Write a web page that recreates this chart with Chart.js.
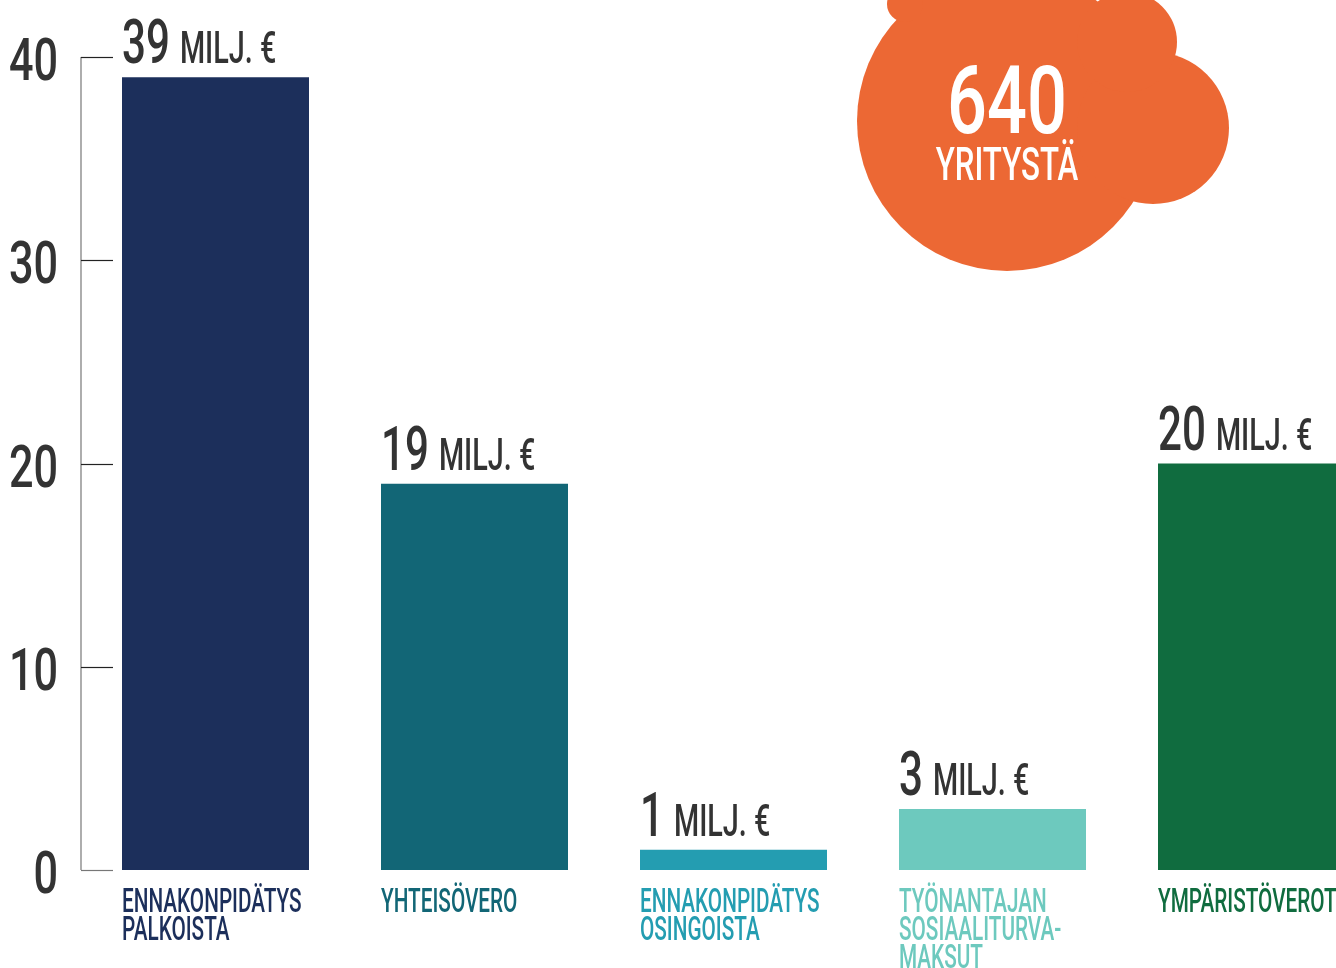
<!DOCTYPE html>
<html>
<head>
<meta charset="utf-8">
<script src="https://cdn.jsdelivr.net/npm/chart.js@4/dist/chart.umd.min.js"></script>
<style>
html,body{margin:0;padding:0;background:#fff;overflow:hidden;width:1336px;height:968px;}
#wrap{position:relative;width:1336px;height:968px;overflow:hidden;}
canvas{position:absolute;left:0;top:0;}
</style>
</head>
<body>
<div id="wrap"><canvas id="c" width="1400" height="968"></canvas></div>
<script>
const categories = [["ENNAKONPIDÄTYS","PALKOISTA"],["YHTEISÖVERO"],["ENNAKONPIDÄTYS","OSINGOISTA"],["TYÖNANTAJAN","SOSIAALITURVA-","MAKSUT"],["YMPÄRISTÖVEROT"]];
const values = [39, 19, 1, 3, 20];
const valueUnit = "MILJ. €";
const barColors = ["#1c2f5b", "#126676", "#249db1", "#6dc9be", "#106c3f"];
const yTicks = [0, 10, 20, 30, 40];
const bubbleNumber = "640";
const bubbleText = "YRITYSTÄ";

const FONT = "Roboto, 'Liberation Sans', sans-serif";

function drawScaled(ctx, text, x, y, font, sx, align, color) {
  ctx.save();
  ctx.font = font;
  ctx.fillStyle = color;
  ctx.textBaseline = "alphabetic";
  const w = ctx.measureText(text).width * sx;
  let x0 = x;
  if (align === "right") x0 = x - w;
  else if (align === "center") x0 = x - w / 2;
  ctx.translate(x0, y);
  ctx.scale(sx, 1);
  ctx.textAlign = "left";
  ctx.fillText(text, 0, 0);
  ctx.restore();
  return w;
}

const deco = {
  id: "deco",
  beforeDatasetsDraw(chart) {
    const ctx = chart.ctx;
    const y = chart.scales.y;
    const ax = 81;
    ctx.save();
    ctx.strokeStyle = "#777";
    ctx.lineWidth = 1.2;
    ctx.beginPath();
    ctx.moveTo(ax, y.getPixelForValue(40));
    ctx.lineTo(ax, y.getPixelForValue(0));
    ctx.stroke();
    yTicks.forEach(t => {
      const py = Math.round(y.getPixelForValue(t)) + 0.5;
      ctx.strokeStyle = t === 0 ? "#777" : "#222";
      ctx.beginPath();
      ctx.moveTo(ax, py);
      ctx.lineTo(113, py);
      ctx.stroke();
      drawScaled(ctx, String(t), 58, py + 22, "500 60px " + FONT, 0.72, "right", "#333");
    });
    ctx.restore();

    ctx.save();
    ctx.fillStyle = "#ec6834";
    [[1007, 121, 150], [1153, 128, 76], [1127, 42, 50], [905, 4, 18]].forEach(c => {
      ctx.beginPath();
      ctx.arc(c[0], c[1], c[2], 0, Math.PI * 2);
      ctx.fill();
    });
    ctx.restore();
    drawScaled(ctx, bubbleNumber, 1007, 133, "500 95px " + FONT, 0.74, "center", "#fff");
    drawScaled(ctx, bubbleText, 1007, 180, "500 46px " + FONT, 0.68, "center", "#fff");
  },
  afterDatasetsDraw(chart) {
    const ctx = chart.ctx;
    const meta = chart.getDatasetMeta(0);
    meta.data.forEach((bar, i) => {
      const left = bar.x - bar.width / 2;
      const top = bar.y;
      const w = drawScaled(ctx, String(values[i]), left, top - 14, "500 62px " + FONT, 0.68, "left", "#333");
      drawScaled(ctx, valueUnit, left + w + 10, top - 14, "500 45px " + FONT, 0.64, "left", "#333");
      categories[i].forEach((line, j) => {
        drawScaled(ctx, line, left, 912 + j * 28, "500 34px " + FONT, 0.61, "left", barColors[i]);
      });
    });
  }
};

new Chart(document.getElementById("c"), {
  type: "bar",
  data: {
    labels: categories.map(c => c.join(" ")),
    datasets: [{
      data: values,
      backgroundColor: barColors,
      borderWidth: 0,
      barPercentage: 0.722,
      categoryPercentage: 1
    }]
  },
  options: {
    responsive: false,
    animation: false,
    layout: { padding: { left: 86, right: 19, top: 57, bottom: 98 } },
    plugins: { legend: { display: false }, tooltip: { enabled: false } },
    scales: {
      x: { display: false, offset: true },
      y: { display: false, min: 0, max: 40 }
    }
  },
  plugins: [deco]
});
</script>
</body>
</html>
